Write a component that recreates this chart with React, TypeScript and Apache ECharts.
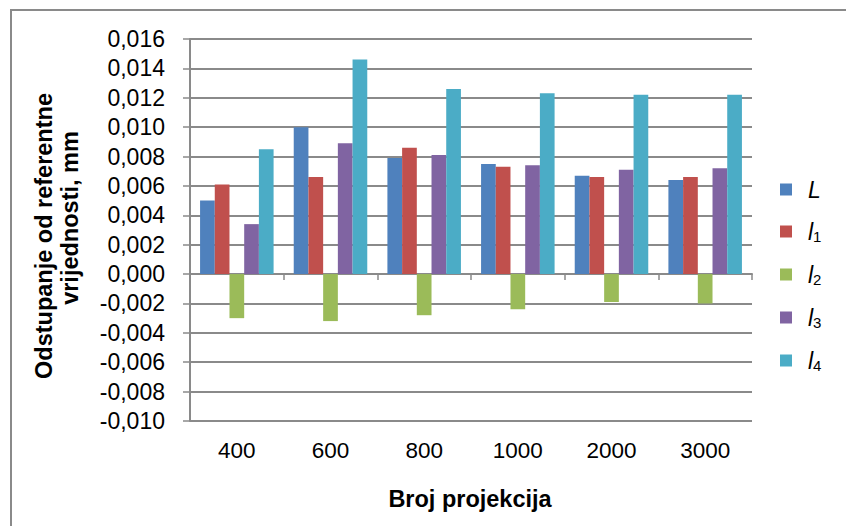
import React, { useEffect, useRef } from "react";
import * as echarts from "echarts";

const categories = ["400", "600", "800", "1000", "2000", "3000"];
const seriesNames = ["L", "l1", "l2", "l3", "l4"];
const valuesL = [0.005, 0.01, 0.0079, 0.0075, 0.0067, 0.0064];
const valuesL1 = [0.0061, 0.0066, 0.0086, 0.0073, 0.0066, 0.0066];
const valuesL2 = [-0.003, -0.0032, -0.0028, -0.0024, -0.0019, -0.002];
const valuesL3 = [0.0034, 0.0089, 0.0081, 0.0074, 0.0071, 0.0072];
const valuesL4 = [0.0085, 0.0146, 0.0126, 0.0123, 0.0122, 0.0122];
const colors = ["#4f81bd", "#c0504d", "#9bbb59", "#8064a2", "#4bacc6"];
const yMin = -0.01;
const yMax = 0.016;
const yStep = 0.002;

const FONT = "'Liberation Sans', Arial, sans-serif";

export default function App() {
  const ref = useRef<HTMLDivElement>(null);
  useEffect(() => {
    if (!ref.current) return;
    const chart = echarts.init(ref.current, undefined, { renderer: "svg" });
    const allValues = [valuesL, valuesL1, valuesL2, valuesL3, valuesL4];
    const gridColor = "#8a8a8a";
    chart.setOption({
      animation: false,
      textStyle: { fontFamily: FONT },
      grid: { left: 190, right: 94, top: 39, bottom: 105, containLabel: false },
      legend: {
        orient: "vertical",
        left: 775,
        top: 173,
        itemWidth: 12,
        itemHeight: 12,
        itemGap: 18,
        icon: "rect",
        data: seriesNames,
        formatter: (name: string) => {
          if (name === "L") return "{g|}{i|L}";
          return "{g|}{i|l}{s|" + name.slice(1) + "}";
        },
        textStyle: {
          color: "#000",
          fontFamily: FONT,
          rich: {
            g: { width: 11 },
            i: { fontSize: 23, fontStyle: "italic", fontFamily: FONT, color: "#000", lineHeight: 24 },
            s: { fontSize: 15, fontFamily: FONT, color: "#000", padding: [10, 0, 0, 0], lineHeight: 24 },
          },
        },
      },
      xAxis: [
        {
          type: "category",
          data: categories,
          position: "bottom",
          axisLine: { show: false, onZero: false },
          axisTick: { show: false },
          axisLabel: { color: "#000", fontSize: 22.5, fontFamily: FONT, margin: 18 },
          splitLine: { show: false },
        },
        {
          type: "category",
          data: categories,
          position: "bottom",
          axisLine: { show: true, onZero: true, lineStyle: { color: gridColor, width: 2 } },
          axisTick: { show: true, length: 6, lineStyle: { color: gridColor, width: 1.5 } },
          axisLabel: { show: false },
          splitLine: { show: false },
        },
      ],
      yAxis: {
        type: "value",
        min: yMin,
        max: yMax,
        interval: yStep,
        axisLine: { show: true, lineStyle: { color: gridColor, width: 2 } },
        axisTick: { show: true, length: 7, lineStyle: { color: gridColor, width: 1.5 } },
        axisLabel: {
          color: "#000",
          fontSize: 23,
          fontFamily: FONT,
          margin: 25,
          formatter: (v: number) => {
            const r = Math.round(v * 1000) / 1000;
            const s = Math.abs(r) < 1e-9 ? "0.000" : r.toFixed(3);
            return s.replace(".", ",");
          },
        },
        splitLine: { show: true, lineStyle: { color: gridColor, width: 2 } },
      },
      series: seriesNames.map((n, i) => ({
        name: n,
        type: "bar",
        xAxisIndex: 0,
        data: allValues[i],
        barGap: "0%",
        barCategoryGap: "21.5%",
        itemStyle: { color: colors[i] },
      })),
      graphic: [
        {
          type: "rect",
          shape: { x: 11, y: 10, width: 900, height: 600 },
          style: { fill: "none", stroke: "#8a8a8a", lineWidth: 2 },
          silent: true,
          z: 100,
        },
        {
          type: "text",
          x: 44,
          y: 236,
          rotation: Math.PI / 2,
          style: {
            text: "Odstupanje od referentne",
            fontSize: 23.5,
            fontWeight: "bold",
            fontFamily: FONT,
            fill: "#000",
            align: "center",
            verticalAlign: "middle",
          },
        },
        {
          type: "text",
          x: 70,
          y: 218,
          rotation: Math.PI / 2,
          style: {
            text: "vrijednosti, mm",
            fontSize: 23.5,
            fontWeight: "bold",
            fontFamily: FONT,
            fill: "#000",
            align: "center",
            verticalAlign: "middle",
          },
        },
        {
          type: "text",
          x: 470,
          y: 499,
          style: {
            text: "Broj projekcija",
            fontSize: 23.5,
            fontWeight: "bold",
            fontFamily: FONT,
            fill: "#000",
            align: "center",
            verticalAlign: "middle",
          },
        },
      ],
    });
    return () => chart.dispose();
  }, []);
  return (
    <div
      ref={ref}
      style={{ position: "fixed", left: 0, top: 0, width: 846, height: 526, background: "#fff" }}
    />
  );
}
